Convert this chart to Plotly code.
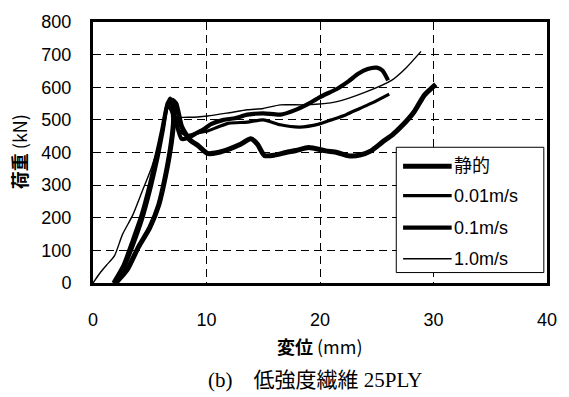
import plotly.graph_objects as go

# Load-displacement curves (displacement mm, load kN)
static_x = [2.0, 3.0, 4.0, 5.0, 5.8, 6.4, 6.9, 7.1, 7.0, 7.3, 7.8, 8.5, 9.3, 10.1, 11.0, 12.1, 13.0, 13.9,
            14.5, 15.1, 16.0, 17.0, 17.9, 19.0, 20.5, 21.5, 22.5, 23.5, 24.5, 25.5, 26.4, 27.2, 28.3, 29.2, 30.2]
static_y = [0, 40, 110, 170, 240, 330, 430, 500, 560, 550, 480, 440, 420, 397, 400, 412, 425, 442,
            425, 391, 392, 400, 406, 415, 405, 400, 390, 392, 405, 432, 455, 481, 525, 576, 609]

v001_x = [1.9, 2.8, 3.6, 4.4, 5.1, 5.7, 6.2, 6.6, 7.0, 7.5, 8.3, 9.2, 10.1, 11.0, 12.0, 13.6, 15.0,
          16.5, 18.2, 19.9, 21.0, 22.3, 23.5, 24.6, 26.1]
v001_y = [0, 50, 120, 200, 290, 380, 470, 545, 520, 470, 452, 460, 466, 478, 490, 493, 500,
          485, 478, 487, 500, 516, 535, 552, 579]

v01_x = [1.8, 2.7, 3.5, 4.3, 5.0, 5.6, 6.1, 6.5, 6.8, 7.2, 7.8, 8.4, 9.0, 9.7, 10.4, 11.5, 12.5, 13.6,
         15.0, 16.5, 17.8, 18.8, 20.0, 21.6, 22.5, 23.4, 24.2, 25.0, 25.5, 26.0]
v01_y = [0, 55, 130, 210, 300, 390, 470, 540, 565, 510, 442, 445, 457, 470, 487, 500, 505, 516,
         520, 516, 530, 546, 570, 597, 618, 642, 656, 660, 651, 621]

v10_x = [0.0, 0.6, 1.2, 1.9, 2.6, 3.5, 4.3, 5.2, 6.0, 6.5, 6.8, 7.3, 8.5, 10.1, 12.0, 13.6, 15.0,
         16.5, 18.8, 21.4, 24.0, 26.3, 27.6, 28.9]
v10_y = [0, 30, 55, 84, 149, 208, 278, 358, 457, 555, 540, 510, 508, 512, 522, 531, 535,
         546, 546, 555, 585, 621, 660, 710]

series_names = ["静的", "0.01m/s", "0.1m/s", "1.0m/s"]
series_x = [static_x, v001_x, v01_x, v10_x]
series_y = [static_y, v001_y, v01_y, v10_y]
series_widths = [5, 3.2, 4.2, 1.4]

x_ticks = [0, 10, 20, 30, 40]
y_ticks = [0, 100, 200, 300, 400, 500, 600, 700, 800]

fig = go.Figure()
for name, xs, ys, w in zip(series_names, series_x, series_y, series_widths):
    fig.add_trace(go.Scatter(x=xs, y=ys, mode="lines", name=name, showlegend=False,
                             line=dict(color="black", width=w, shape="spline", smoothing=0.6)))

tick_font = dict(family="Liberation Sans, Arial, sans-serif", size=18, color="black")

fig.update_xaxes(range=[0, 40], tickvals=x_ticks, showgrid=True, gridcolor="black", griddash="8px,5px",
                 gridwidth=1, showline=True, linecolor="black", linewidth=3, mirror=True,
                 ticks="", tickfont=tick_font, ticklabelstandoff=18, zeroline=False)
fig.update_yaxes(range=[0, 800], tickvals=y_ticks, showgrid=True, gridcolor="black", griddash="8px,5px",
                 gridwidth=1, showline=True, linecolor="black", linewidth=3, mirror=True,
                 ticks="", tickfont=tick_font, ticklabelstandoff=15, zeroline=False)

# Hand-drawn legend box (paper coordinates)
legend_left, legend_right = 0.668, 0.993
legend_top, legend_bottom = 0.52, 0.04
fig.add_shape(type="rect", xref="paper", yref="paper", x0=legend_left, x1=legend_right,
              y0=legend_bottom, y1=legend_top, line=dict(color="black", width=1), fillcolor="white")
row_y = [0.447, 0.335, 0.212, 0.093]
for name, w, yy in zip(series_names, series_widths, row_y):
    fig.add_shape(type="line", xref="paper", yref="paper", x0=0.683, x1=0.79, y0=yy, y1=yy,
                  line=dict(color="black", width=w))
    fig.add_annotation(text=name, xref="paper", yref="paper", x=0.79, y=yy, xanchor="left",
                       yanchor="middle", showarrow=False,
                       font=dict(family="Liberation Sans, Noto Sans CJK JP, sans-serif", size=18,
                                 color="black"))

# Axis titles and caption
fig.add_annotation(text="<b>荷重</b> (kN)", xref="paper", yref="paper", x=-0.163, y=0.505,
                   textangle=-90, showarrow=False, xanchor="center", yanchor="middle",
                   font=dict(family="Noto Sans CJK JP, sans-serif", size=18, color="black"))
fig.add_annotation(text="<b>変位</b> (mm)", xref="paper", yref="paper", x=0.5, y=-0.243,
                   showarrow=False, xanchor="center", yanchor="middle",
                   font=dict(family="Noto Sans CJK JP, sans-serif", size=18, color="black"))
fig.add_annotation(text="(b)　低強度繊維 25PLY", xref="paper", yref="paper", x=0.49, y=-0.373,
                   showarrow=False, xanchor="center", yanchor="middle",
                   font=dict(family="Liberation Serif, Noto Sans CJK JP, serif", size=21, color="black"))

fig.update_layout(width=569, height=397, margin=dict(l=93, r=14, t=15, b=114),
                  plot_bgcolor="white", paper_bgcolor="white", showlegend=False)

fig.write_html("out.html")
